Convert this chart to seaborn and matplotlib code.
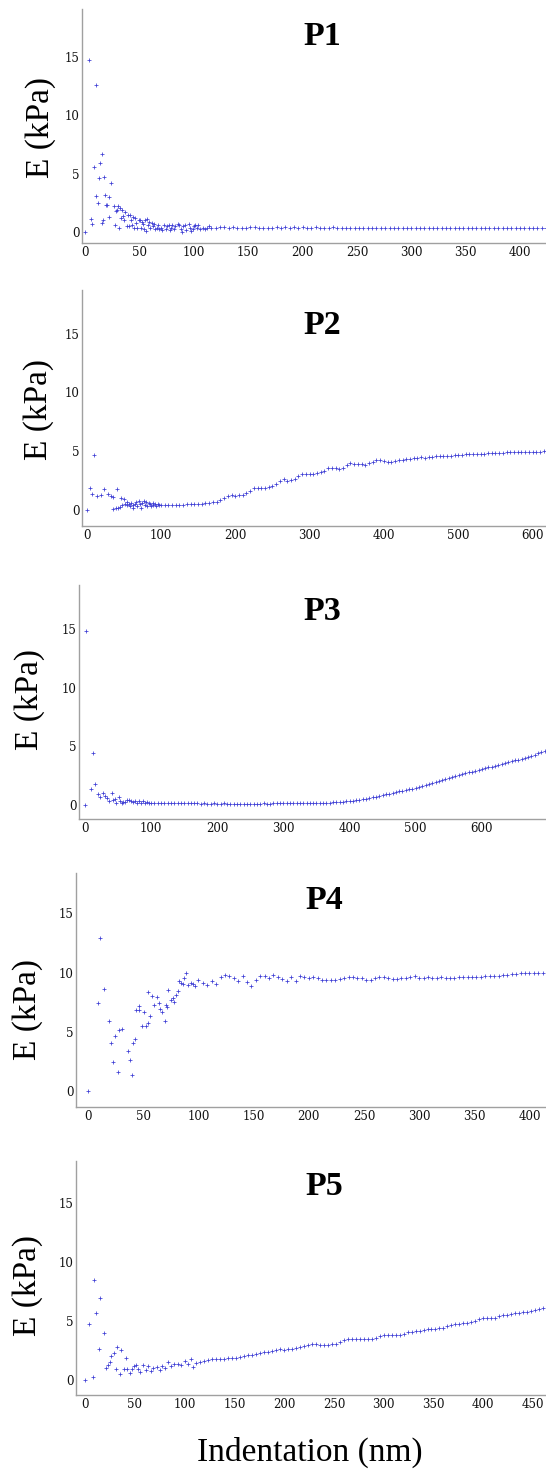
import matplotlib
matplotlib.use("Agg")
import matplotlib.pyplot as plt
import seaborn as sns

# ---------------- data ----------------
titles = ["P1", "P2", "P3", "P4", "P5"]
ytick_vals = [0, 5, 10, 15]

# P1
p1_x_early = [0, 3.5, 5, 6, 8, 10, 10, 11.5, 12.5, 13.5,
              15, 15, 16, 17, 18, 19.5, 20, 21.5, 21.5, 23.5,
              26, 27, 28, 29, 30, 31, 32, 33, 34, 35,
              36, 37, 38, 39, 40, 41, 42, 43, 44, 45,
              46, 47, 48, 49, 50, 51, 52, 53, 54, 55,
              56, 57, 58, 59, 60, 61, 62, 63, 64, 66,
              67, 68, 70, 71, 72, 74, 75, 77, 78, 79,
              80, 82, 83, 85, 86, 88, 89, 90, 92, 93,
              95, 96, 97, 99, 100, 101, 103, 104, 106, 108,
              110, 112, 114]
p1_e_early = [0.0, 14.7, 1.1, 0.7, 5.6, 12.6, 3.1, 2.5, 4.6, 5.9,
              6.7, 0.8, 1.0, 4.7, 3.2, 2.3, 2.3, 3.0, 1.3, 4.2,
              2.2, 0.6, 1.8, 1.9, 2.2, 0.4, 2.1, 1.2, 1.9, 1.4,
              1.0, 1.7, 0.5, 1.5, 0.5, 1.5, 1.0, 0.6, 1.3, 0.4,
              1.2, 0.8, 0.4, 1.0, 1.0, 0.4, 0.9, 0.7, 0.3, 1.0,
              0.1, 1.1, 0.6, 0.9, 0.4, 0.8, 0.5, 0.7, 0.3, 0.4,
              0.6, 0.3, 0.4, 0.2, 0.6, 0.3, 0.5, 0.6, 0.2, 0.4,
              0.6, 0.3, 0.5, 0.7, 0.6, 0.3, 0.0, 0.5, 0.6, 0.2,
              0.7, 0.4, 0.1, 0.3, 0.5, 0.6, 0.4, 0.6, 0.3, 0.4,
              0.3, 0.4, 0.5]
p1_x_main = [116, 120, 124, 128, 132, 136, 140, 144, 148, 152,
             156, 160, 164, 168, 172, 176, 180, 184, 188, 192,
             196, 200, 204, 208, 212, 216, 220, 224, 228, 232,
             236, 240, 244, 248, 252, 256, 260, 264, 268, 272,
             276, 280, 284, 288, 292, 296, 300, 304, 308, 312,
             316, 320, 324, 328, 332, 336, 340, 344, 348, 352,
             356, 360, 364, 368, 372, 376, 380, 384, 388, 392,
             396, 400, 404, 408, 412, 416, 420, 424]
p1_e_main = [0.35, 0.40, 0.45, 0.45, 0.40, 0.45, 0.40, 0.35, 0.40, 0.45,
             0.45, 0.40, 0.40, 0.35, 0.40, 0.45, 0.40, 0.45, 0.40, 0.45,
             0.40, 0.45, 0.40, 0.40, 0.45, 0.40, 0.40, 0.40, 0.45, 0.40,
             0.40, 0.40, 0.40, 0.35, 0.40, 0.40, 0.40, 0.40, 0.35, 0.40,
             0.40, 0.40, 0.35, 0.40, 0.40, 0.40, 0.35, 0.35, 0.40, 0.40,
             0.35, 0.35, 0.40, 0.35, 0.35, 0.35, 0.40, 0.35, 0.35, 0.40,
             0.40, 0.35, 0.40, 0.40, 0.40, 0.35, 0.40, 0.40, 0.40, 0.35,
             0.40, 0.40, 0.40, 0.35, 0.40, 0.40, 0.40, 0.40]

# P2
p2_x_early = [0, 5, 7, 10, 14.5, 20, 24, 29, 33, 35,
              36, 39, 41, 42.5, 45, 46, 48, 50, 52, 54,
              55, 57, 58, 60, 62, 63, 65, 67, 68, 70,
              72, 73, 75, 77, 78, 80, 82, 84, 85, 87,
              89, 90, 92, 94, 96, 98]
p2_e_early = [0.0, 1.85, 1.4, 4.7, 1.2, 1.3, 1.8, 1.4, 1.2, 1.1,
              0.1, 0.15, 1.75, 0.2, 0.25, 1.0, 0.4, 0.9, 0.5, 0.7,
              0.4, 0.5, 0.3, 0.6, 0.4, 0.2, 0.5, 0.7, 0.3, 0.8,
              0.5, 0.2, 0.6, 0.8, 0.4, 0.7, 0.3, 0.6, 0.5, 0.3,
              0.6, 0.4, 0.5, 0.3, 0.5, 0.4]
p2_x_main = [100, 105, 110, 115, 120, 125, 130, 135, 140, 145,
             150, 155, 160, 165, 170, 175, 180, 185, 190, 195,
             200, 205, 210, 215, 220, 225, 230, 235, 240, 245,
             250, 255, 260, 265, 270, 275, 280, 285, 290, 295,
             300, 305, 310, 315, 320, 325, 330, 335, 340, 345,
             350, 355, 360, 365, 370, 375, 380, 385, 390, 395,
             400, 405, 410, 415, 420, 425, 430, 435, 440, 445,
             450, 455, 460, 465, 470, 475, 480, 485, 490, 495,
             500, 505, 510, 515, 520, 525, 530, 535, 540, 545,
             550, 555, 560, 565, 570, 575, 580, 585, 590, 595,
             600, 605, 610, 615]
p2_e_main = [0.40, 0.40, 0.42, 0.40, 0.45, 0.42, 0.45, 0.48, 0.50, 0.48,
             0.52, 0.55, 0.60, 0.63, 0.68, 0.72, 0.85, 1.00, 1.15, 1.25,
             1.20, 1.30, 1.28, 1.45, 1.60, 1.85, 1.85, 1.90, 1.88, 1.95,
             2.00, 2.20, 2.50, 2.60, 2.50, 2.52, 2.60, 2.85, 3.05, 3.10,
             3.10, 3.08, 3.12, 3.20, 3.35, 3.60, 3.58, 3.55, 3.52, 3.60,
             3.80, 3.98, 3.95, 3.90, 3.88, 3.85, 4.00, 4.10, 4.25, 4.28,
             4.20, 4.10, 4.12, 4.18, 4.25, 4.28, 4.30, 4.33, 4.38, 4.45,
             4.50, 4.45, 4.48, 4.52, 4.58, 4.60, 4.60, 4.62, 4.63, 4.65,
             4.68, 4.70, 4.72, 4.72, 4.75, 4.78, 4.76, 4.80, 4.82, 4.85,
             4.85, 4.86, 4.88, 4.90, 4.90, 4.92, 4.90, 4.93, 4.92, 4.95,
             4.95, 4.97, 4.96, 5.00]

# P3
p3_x_early = [0, 2, 9, 11.5, 15, 19.5, 23, 27, 30, 33,
              37, 40.5, 42, 45, 47, 51, 53, 56, 58, 61,
              64, 67, 70, 73, 76, 79, 82, 85, 88, 91,
              94, 97]
p3_e_early = [0.0, 14.85, 1.35, 4.45, 1.8, 0.95, 0.7, 1.0, 0.8, 0.6,
              0.3, 1.0, 0.4, 0.5, 0.2, 0.65, 0.3, 0.15, 0.25, 0.25,
              0.4, 0.45, 0.3, 0.25, 0.35, 0.2, 0.3, 0.2, 0.3, 0.2,
              0.25, 0.2]
p3_x_main = [100, 105, 110, 115, 120, 125, 130, 135, 140, 145,
             150, 155, 160, 165, 170, 175, 180, 185, 190, 195,
             200, 205, 210, 215, 220, 225, 230, 235, 240, 245,
             250, 255, 260, 265, 270, 275, 280, 285, 290, 295,
             300, 305, 310, 315, 320, 325, 330, 335, 340, 345,
             350, 355, 360, 365, 370, 375, 380, 385, 390, 395,
             400, 405, 410, 415, 420, 425, 430, 435, 440, 445,
             450, 455, 460, 465, 470, 475, 480, 485, 490, 495,
             500, 505, 510, 515, 520, 525, 530, 535, 540, 545,
             550, 555, 560, 565, 570, 575, 580, 585, 590, 595,
             600, 605, 610, 615, 620, 625, 630, 635, 640, 645,
             650, 655, 660, 665, 670, 675, 680, 685, 690, 695]
p3_e_main = [0.20, 0.18, 0.17, 0.18, 0.15, 0.16, 0.15, 0.14, 0.15, 0.15,
             0.15, 0.14, 0.13, 0.14, 0.13, 0.12, 0.13, 0.12, 0.12, 0.13,
             0.12, 0.12, 0.13, 0.12, 0.11, 0.12, 0.12, 0.11, 0.12, 0.12,
             0.12, 0.12, 0.12, 0.12, 0.13, 0.12, 0.12, 0.13, 0.13, 0.13,
             0.13, 0.13, 0.14, 0.14, 0.14, 0.14, 0.15, 0.15, 0.16, 0.16,
             0.16, 0.17, 0.18, 0.19, 0.20, 0.22, 0.23, 0.25, 0.28, 0.31,
             0.35, 0.38, 0.42, 0.46, 0.50, 0.55, 0.60, 0.66, 0.72, 0.78,
             0.85, 0.91, 0.98, 1.04, 1.10, 1.16, 1.22, 1.28, 1.34, 1.40,
             1.47, 1.55, 1.62, 1.70, 1.78, 1.86, 1.95, 2.03, 2.12, 2.21,
             2.30, 2.38, 2.46, 2.54, 2.62, 2.70, 2.78, 2.85, 2.92, 2.99,
             3.06, 3.13, 3.20, 3.27, 3.35, 3.42, 3.50, 3.57, 3.65, 3.72,
             3.80, 3.87, 3.95, 4.03, 4.12, 4.20, 4.30, 4.40, 4.50, 4.60]

# P4
p4_x_early = [0, 9, 11, 14.5, 18.5, 21, 22.7, 24.3, 27.4, 28,
              31, 36, 38, 40, 41, 42.6, 43.8, 45.7, 46.5, 49,
              50.5, 52, 54, 54.5, 56.5, 58, 60, 62, 64.4, 65.3,
              67.2, 69.4, 70.7, 71.7, 72.6, 74.8, 77, 78, 79.5, 81.4,
              82.7, 84.3, 86, 87, 89, 90.5, 93, 95.3, 97, 100]
p4_e_early = [0.0, 7.45, 12.9, 8.6, 5.9, 4.05, 2.4, 4.6, 1.6, 5.15,
              5.2, 3.4, 2.6, 1.35, 4.0, 4.4, 6.85, 6.8, 7.2, 5.5,
              6.7, 5.5, 5.75, 8.35, 6.35, 8.05, 7.25, 7.95, 7.4, 6.9,
              6.65, 5.9, 7.25, 7.05, 8.55, 7.65, 7.85, 7.5, 8.1, 8.4,
              9.25, 9.1, 9.0, 9.55, 9.95, 8.95, 9.15, 9.0, 8.9, 9.4]
p4_x_main = [104, 108, 112, 116, 120, 124, 128, 132, 136, 140,
             144, 148, 152, 156, 160, 164, 168, 172, 176, 180,
             184, 188, 192, 196, 200, 204, 208, 212, 216, 220,
             224, 228, 232, 236, 240, 244, 248, 252, 256, 260,
             264, 268, 272, 276, 280, 284, 288, 292, 296, 300,
             304, 308, 312, 316, 320, 324, 328, 332, 336, 340,
             344, 348, 352, 356, 360, 364, 368, 372, 376, 380,
             384, 388, 392, 396, 400, 404, 408, 412]
p4_e_main = [9.10, 8.95, 9.30, 9.00, 9.65, 9.80, 9.75, 9.55, 9.30, 9.70,
             9.20, 8.90, 9.40, 9.70, 9.75, 9.50, 9.80, 9.60, 9.45, 9.30,
             9.60, 9.30, 9.70, 9.60, 9.55, 9.60, 9.50, 9.40, 9.35, 9.40,
             9.40, 9.45, 9.55, 9.65, 9.60, 9.55, 9.50, 9.40, 9.35, 9.55,
             9.60, 9.65, 9.55, 9.45, 9.45, 9.50, 9.55, 9.60, 9.70, 9.55,
             9.55, 9.60, 9.50, 9.55, 9.60, 9.55, 9.50, 9.55, 9.60, 9.60,
             9.60, 9.65, 9.65, 9.65, 9.70, 9.70, 9.75, 9.75, 9.80, 9.80,
             9.85, 9.90, 9.95, 9.95, 10.0, 9.95, 10.0, 10.0]

# P5
p5_x_early = [0, 4.2, 8, 9.4, 11.5, 13.6, 15, 18.9, 21.3, 23,
              24.8, 26.6, 28.7, 31, 32.2, 35, 36.4, 38.8, 41.6, 42.5,
              44.8, 47, 49.3, 51.7, 53.5, 55.6, 58, 60.8, 63.3, 66,
              68.5, 72, 75, 77.3, 80, 83.6, 86, 89.5, 93, 96.5,
              100, 103, 106, 108.7]
p5_e_early = [0.0, 4.8, 0.3, 8.5, 5.7, 2.6, 7.0, 4.0, 1.05, 1.3,
              1.5, 2.05, 2.3, 0.9, 2.8, 0.5, 2.55, 0.95, 1.9, 0.9,
              0.6, 0.95, 1.2, 1.3, 0.9, 0.7, 1.3, 0.85, 1.2, 0.77,
              1.0, 1.15, 0.85, 1.2, 1.0, 1.55, 1.2, 1.35, 1.4, 1.3,
              1.6, 1.35, 1.75, 1.15]
p5_x_main = [112, 116, 120, 124, 128, 132, 136, 140, 144, 148,
             152, 156, 160, 164, 168, 172, 176, 180, 184, 188,
             192, 196, 200, 204, 208, 212, 216, 220, 224, 228,
             232, 236, 240, 244, 248, 252, 256, 260, 264, 268,
             272, 276, 280, 284, 288, 292, 296, 300, 304, 308,
             312, 316, 320, 324, 328, 332, 336, 340, 344, 348,
             352, 356, 360, 364, 368, 372, 376, 380, 384, 388,
             392, 396, 400, 404, 408, 412, 416, 420, 424, 428,
             432, 436, 440, 444, 448, 452, 456, 460]
p5_e_main = [1.45, 1.55, 1.60, 1.70, 1.75, 1.80, 1.78, 1.80, 1.85, 1.88,
             1.90, 1.95, 2.05, 2.10, 2.15, 2.20, 2.30, 2.35, 2.40, 2.45,
             2.55, 2.60, 2.55, 2.60, 2.65, 2.75, 2.80, 2.85, 2.95, 3.05,
             3.05, 3.00, 2.95, 2.95, 3.05, 3.10, 3.25, 3.40, 3.45, 3.50,
             3.50, 3.45, 3.45, 3.45, 3.50, 3.60, 3.75, 3.85, 3.85, 3.80,
             3.80, 3.85, 3.95, 4.05, 4.10, 4.15, 4.20, 4.25, 4.30, 4.30,
             4.35, 4.40, 4.45, 4.55, 4.65, 4.75, 4.80, 4.85, 4.85, 4.95,
             5.05, 5.15, 5.25, 5.25, 5.30, 5.25, 5.40, 5.50, 5.55, 5.65,
             5.70, 5.70, 5.75, 5.80, 5.85, 5.95, 6.05, 6.10]

xticks_p1 = [0, 50, 100, 150, 200, 250, 300, 350, 400]
xticks_p2 = [0, 100, 200, 300, 400, 500, 600]
xticks_p3 = [0, 100, 200, 300, 400, 500, 600]
xticks_p4 = [0, 50, 100, 150, 200, 250, 300, 350, 400]
xticks_p5 = [0, 50, 100, 150, 200, 250, 300, 350, 400, 450]

# ---------------- styling / layout ----------------
sns.set_theme(style="white")
plt.rcParams["font.family"] = ["DejaVu Serif"]
plt.rcParams["text.color"] = "black"
plt.rcParams["axes.labelcolor"] = "black"

W, H = 546, 1471
fig = plt.figure(figsize=(W / 100, H / 100), dpi=100)

panels = [
    dict(x=p1_x_early + p1_x_main, y=p1_e_early + p1_e_main, xt=xticks_p1,
         rect=(81.7, 9, 242.7), xlim=(-3.3, 424), ylim=(-0.9, 19.1),
         title_px=(322, 45), ylab_px=(41, 127)),
    dict(x=p2_x_early + p2_x_main, y=p2_e_early + p2_e_main, xt=xticks_p2,
         rect=(81.7, 290, 526), xlim=(-6.5, 618), ylim=(-1.36, 18.7),
         title_px=(322, 334), ylab_px=(39, 410)),
    dict(x=p3_x_early + p3_x_main, y=p3_e_early + p3_e_main, xt=xticks_p3,
         rect=(78.7, 585, 818.7), xlim=(-9.5, 697), ylim=(-1.17, 18.77),
         title_px=(322, 620), ylab_px=(30, 700)),
    dict(x=p4_x_early + p4_x_main, y=p4_e_early + p4_e_main, xt=xticks_p4,
         rect=(76, 873.3, 1106.7), xlim=(-11, 415), ylim=(-1.35, 18.4),
         title_px=(324, 909), ylab_px=(28, 1010)),
    dict(x=p5_x_early + p5_x_main, y=p5_e_early + p5_e_main, xt=xticks_p5,
         rect=(76, 1161, 1395), xlim=(-9, 463), ylim=(-1.27, 18.6),
         title_px=(324, 1195), ylab_px=(28, 1286)),
]

spine_col = "#a0a0a0"
mark_col = "#3c3cd4"

for i, p in enumerate(panels):
    lp, tp, bp = p["rect"]
    wpx = W - lp
    hpx = bp - tp
    ax = fig.add_axes([lp / W, (H - bp) / H, wpx / W, hpx / H])
    sns.scatterplot(x=p["x"], y=p["y"], marker="+", s=7, color=mark_col,
                    linewidth=0.55, ax=ax, legend=False)
    ax.set_xlim(*p["xlim"])
    ax.set_ylim(*p["ylim"])
    ax.set_xticks(p["xt"])
    ax.set_yticks(ytick_vals)
    for s in ["top", "right"]:
        ax.spines[s].set_visible(False)
    for s in ["left", "bottom"]:
        ax.spines[s].set_color(spine_col)
        ax.spines[s].set_linewidth(1.0)
    ax.tick_params(axis="both", direction="in", length=3.5, width=0.8,
                   color=spine_col, labelsize=8.5, labelcolor="#111111")
    ax.tick_params(axis="y", pad=1.5)
    ax.tick_params(axis="x", pad=2.5)
    ax.set_facecolor("none")

    tx, ty = p["title_px"]
    ax.set_title(titles[i], x=(tx - lp) / wpx, y=(bp - ty) / hpx,
                 va="center", ha="center", fontsize=24.5, fontweight="bold",
                 color="black", family=["Liberation Serif"])
    yl = ax.set_ylabel("E (kPa)", fontsize=24, color="black",
                       family=["Liberation Serif"])
    lx, ly = p["ylab_px"]
    ax.yaxis.set_label_coords((lx - lp) / wpx, (bp - ly) / hpx)
    yl.set_va("center")
    if i == 4:
        xl = ax.set_xlabel("Indentation (nm)", fontsize=24, color="black",
                           family=["Liberation Serif"])
        ax.xaxis.set_label_coords((310 - lp) / wpx, (bp - 1452) / hpx)
        xl.set_va("center")
    else:
        ax.set_xlabel("")

fig.savefig("out.png", dpi=100)
